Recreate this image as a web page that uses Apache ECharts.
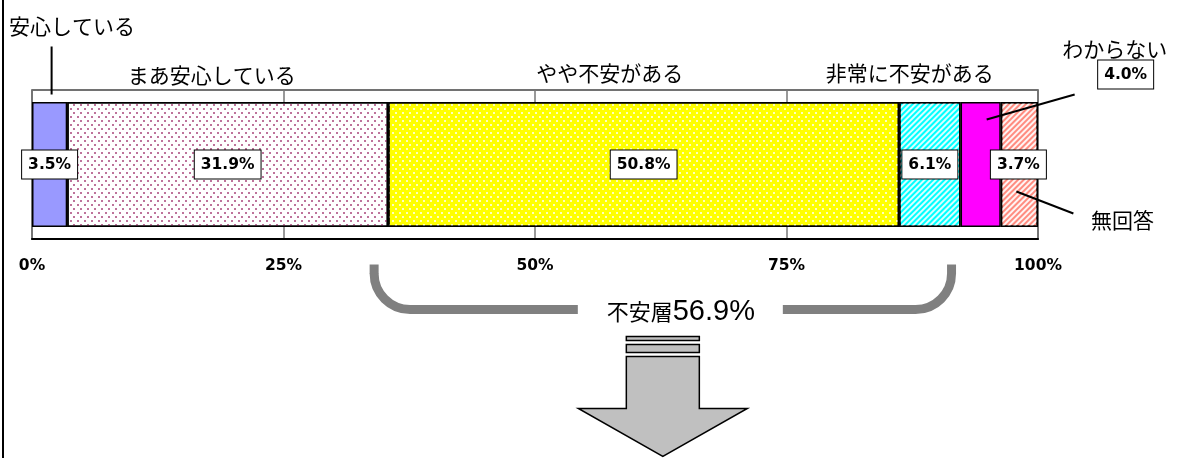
<!DOCTYPE html>
<html>
<head>
<meta charset="utf-8">
<script src="https://cdn.jsdelivr.net/npm/echarts@6/dist/echarts.min.js"></script>
<style>
html,body{margin:0;padding:0;background:#fff;}
#main{width:1185px;height:458px;}
</style>
</head>
<body>
<div id="main"></div>
<script>
// ---- data ----
const categories = ['安心している', 'まあ安心している', 'やや不安がある', '非常に不安がある', 'わからない', '無回答'];
const values = [3.5, 31.9, 50.8, 6.1, 4.0, 3.7];
const tickLabels = ['0%', '25%', '50%', '75%', '100%'];
const anxiousGroup = ['やや不安がある', '非常に不安がある'];
const anxiousTitle = '不安層';

// ---- styles ----
const CJK = '"Noto Sans CJK JP", "Noto Sans", sans-serif';
const LAT = '"DejaVu Sans", sans-serif';
const fills = ['#9999FF', '#FFFFFF', '#FFFF00', '#00FFFF', '#FF00FF', '#FF8C80'];
const dotsStagger = { dashArrayX: [[1.5, 4.5], [0, 3, 1.5, 1.5]], dashArrayY: [1.5, 1.5] };
const decals = [
  null,
  Object.assign({ symbol: 'circle', symbolSize: 1, color: '#A8447A' }, dotsStagger),
  Object.assign({ symbol: 'circle', symbolSize: 1, color: '#FFFFFF' }, dotsStagger),
  { symbol: 'rect', symbolSize: 1, color: 'rgba(255,255,255,0.85)', dashArrayX: [1, 0], dashArrayY: [2, 2], rotation: -Math.PI / 4 },
  null,
  { symbol: 'rect', symbolSize: 1, color: 'rgba(255,255,255,0.9)', dashArrayX: [1, 0], dashArrayY: [2, 2], rotation: -Math.PI / 4 }
];
const labelOffsets = [[0, 0], [0, 0], [0, 0], [0, 0], [145, -90], [-1, 0]];

const boxLabel = {
  show: true,
  position: 'inside',
  formatter: p => p.value.toFixed(1) + '%',
  fontFamily: LAT,
  fontWeight: 'bold',
  fontSize: 15.5,
  color: '#000',
  backgroundColor: '#fff',
  borderColor: '#000',
  borderWidth: 1,
  padding: [6, 6, 5, 6],
  lineHeight: 17
};

const series = categories.map((c, i) => ({
  name: c,
  type: 'bar',
  stack: 'total',
  barWidth: 125,
  data: [values[i]],
  itemStyle: Object.assign({ color: fills[i], borderColor: '#000', borderWidth: 1.5 }, decals[i] ? { decal: decals[i] } : {}),
  label: Object.assign({}, boxLabel, { offset: labelOffsets[i] }),
  emphasis: { disabled: true },
  z: 3
}));

const option = {
  animation: false,
  backgroundColor: '#fff',
  grid: { left: 32, right: 147, top: 90, height: 149, show: true, borderColor: '#444', borderWidth: 1.5, backgroundColor: 'transparent' },
  xAxis: {
    type: 'value', min: 0, max: 100, interval: 25,
    axisLine: { show: true, lineStyle: { color: '#000', width: 2 } },
    axisTick: { show: false },
    splitLine: { show: true, lineStyle: { color: '#777', width: 1.5 } },
    axisLabel: {
      formatter: v => tickLabels[Math.round(v / 25)],
      fontFamily: LAT, fontWeight: 'bold', fontSize: 15.5, color: '#000', margin: 19
    }
  },
  yAxis: { type: 'category', data: [''], show: false },
  series: series
};

const chart = echarts.init(document.getElementById('main'), null, { renderer: 'canvas' });
chart.setOption(option);

// ---- annotations computed from the chart's own scales ----
const px = v => chart.convertToPixel({ xAxisIndex: 0 }, v);
const yc = chart.convertToPixel({ yAxisIndex: 0 }, 0);
const cum = [];
values.reduce((a, v, i) => { cum[i] = a; return a + v; }, 0);
const segC = i => px(cum[i] + values[i] / 2);
const segStart = i => px(cum[i]);
const segEnd = i => px(cum[i] + values[i]);

const titleY = yc - 90;
const txt = (text, x, y, size, align) => ({
  type: 'text', z: 20,
  style: { text, x, y, fill: '#000', font: size + 'px ' + CJK, textAlign: align || 'center', textVerticalAlign: 'middle' }
});
const line = (x1, y1, x2, y2, style) => ({
  type: 'line', z: 20, shape: { x1, y1, x2, y2 }, style: style || { stroke: '#000', lineWidth: 2 }
});

const g = [];
// left page border
g.push(line(3, 0, 3, 458));
// 安心している
g.push(txt(categories[0], segStart(0) - 23, yc - 138, 21, 'left'));
g.push(line(segC(0) + 2, yc - 118, segC(0) + 2, yc - 70));
// category titles above bar
g.push(txt(categories[1], segC(1) - 16, titleY + 1, 21));
g.push(txt(categories[2], segC(2) - 34, titleY - 1, 21));
g.push(txt(categories[3], segC(3) - 20, titleY - 1, 21));
// わからない
g.push(txt(categories[4], segC(4) + 134, yc - 115, 21));
g.push(line(segC(4) + 6, yc - 45, segC(4) + 94, yc - 70));
// 無回答
g.push(txt(categories[5], segC(5) + 103, yc + 56, 21));
g.push(line(segC(5) - 3, yc + 27, segC(5) + 54, yc + 49));

// bracket over the anxious group
const i1 = categories.indexOf(anxiousGroup[0]);
const i2 = categories.indexOf(anxiousGroup[1]);
const leftX = segStart(i1) - 14;
const rightX = segEnd(i2) - 9;
const midX = (leftX + rightX) / 2;
const bTop = yc + 100;
const bY = yc + 145;
const r = 36;
const bs = { stroke: '#808080', lineWidth: 9, fill: null };
g.push(line(leftX, bTop, leftX, bY - r + 0.5, bs));
g.push({ type: 'arc', z: 15, shape: { cx: leftX + r, cy: bY - r, r: r, startAngle: Math.PI / 2, endAngle: Math.PI, clockwise: true }, style: bs });
g.push(line(leftX + r - 0.5, bY, midX - 85, bY, bs));
g.push(line(midX + 120, bY, rightX - r + 0.5, bY, bs));
g.push({ type: 'arc', z: 15, shape: { cx: rightX - r, cy: bY - r, r: r, startAngle: 0, endAngle: Math.PI / 2, clockwise: true }, style: bs });
g.push(line(rightX, bY - r + 0.5, rightX, bTop, bs));

const anxSum = values[i1] + values[i2];
g.push({
  type: 'text', z: 20,
  style: {
    text: '{a|' + anxiousTitle + '}{b|' + anxSum.toFixed(1) + '%}',
    x: midX + 18, y: bY + 2, align: 'center', verticalAlign: 'middle',
    textAlign: 'center', textVerticalAlign: 'middle',
    rich: {
      a: { fontSize: 22, fontFamily: CJK, color: '#000' },
      b: { fontSize: 29, fontFamily: '"Liberation Sans", sans-serif', color: '#000' }
    }
  }
});

// down arrow
const sw = 36.5, hw = 84.5;
const aStyle = { fill: '#C0C0C0', stroke: '#000', lineWidth: 1.5 };
g.push({ type: 'rect', z: 15, shape: { x: midX - sw, y: yc + 172, width: sw * 2, height: 4 }, style: aStyle });
g.push({ type: 'rect', z: 15, shape: { x: midX - sw, y: yc + 180, width: sw * 2, height: 8 }, style: aStyle });
g.push({ type: 'polygon', z: 15, shape: { points: [
  [midX - sw, yc + 192], [midX + sw, yc + 192], [midX + sw, yc + 244], [midX + hw, yc + 244],
  [midX, yc + 292], [midX - hw, yc + 244], [midX - sw, yc + 244]
] }, style: aStyle });

chart.setOption({ graphic: { elements: g } });
</script>
</body>
</html>
